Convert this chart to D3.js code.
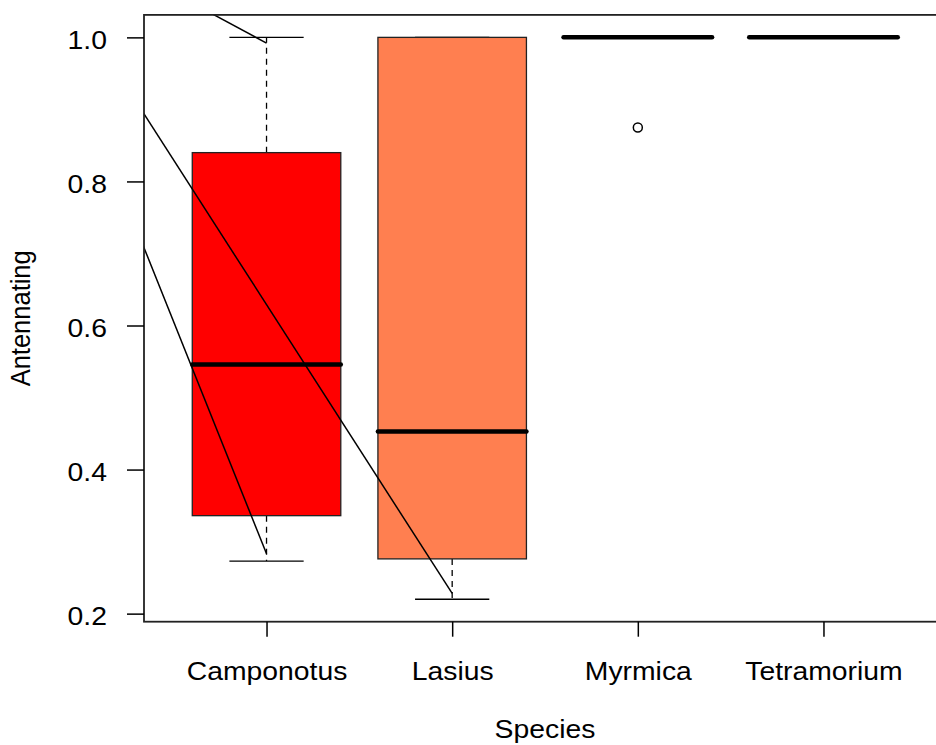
<!DOCTYPE html>
<html>
<head>
<meta charset="utf-8">
<script src="https://cdn.jsdelivr.net/npm/d3@7"></script>
<style>
  body { margin: 0; background: #fff; }
  text { font-family: "Liberation Sans", Arial, sans-serif; fill: #000; }
</style>
</head>
<body>
<div id="chart"></div>
<script>
// Data
var species = ["Camponotus", "Lasius", "Myrmica", "Tetramorium"];
var boxFill = ["#FF0000", "#FF7F50", "#FFFFFF", "#FFFFFF"];
var lowerWhisker = [0.273, 0.220, 1.0, 1.0];
var q1 = [0.336, 0.276, 1.0, 1.0];
var median = [0.546, 0.453, 1.0, 1.0];
var q3 = [0.840, 1.0, 1.0, 1.0];
var upperWhisker = [1.0, 1.0, 1.0, 1.0];

// outlier points (species index is 1-based like the x positions)
var outlierX = [3];
var outlierY = [0.875];

// stray straight lines drawn over the plot (x in group units)
var segX1 = [0, 0, 0];
var segY1 = [1.131, 1.03, 0.927];
var segX2 = [1, 2, 1];
var segY2 = [0.992, 0.228, 0.283];

var yTicks = [0.2, 0.4, 0.6, 0.8, 1.0];

// SVG area
var svgWidth = 936;
var svgHeight = 745;

var plot = { left: 144, top: 14.9, right: 946, bottom: 621.7 };
var stretch = 1.09; // text is a bit wider than tall in the original

var svg = d3.select("#chart")
    .append("svg")
    .attr("width", svgWidth)
    .attr("height", svgHeight);

// Scales
var xScale = d3.scaleLinear()
    .domain([0.34, 4.66])
    .range([plot.left, plot.right]);

var yScale = d3.scaleLinear()
    .domain([0.1888, 1.0312])
    .range([plot.bottom, plot.top]);

var unit = xScale(1) - xScale(0);
var boxHalf = 0.4 * unit;
var capHalf = 0.2 * unit;

svg.append("clipPath")
    .attr("id", "plotClip")
    .append("rect")
    .attr("x", plot.left)
    .attr("y", plot.top)
    .attr("width", plot.right - plot.left)
    .attr("height", plot.bottom - plot.top);

var boxGroup = svg.append("g").attr("clip-path", "url(#plotClip)");

var idx = d3.range(species.length);

// whiskers (dashed)
boxGroup.selectAll(".whiskerLow")
    .data(idx)
    .enter()
    .append("line")
    .attr("x1", i => xScale(i + 1))
    .attr("x2", i => xScale(i + 1))
    .attr("y1", i => yScale(q1[i]))
    .attr("y2", i => yScale(lowerWhisker[i]))
    .attr("stroke", "#000")
    .attr("stroke-width", 1.3)
    .attr("stroke-dasharray", "6,5");

boxGroup.selectAll(".whiskerHigh")
    .data(idx)
    .enter()
    .append("line")
    .attr("x1", i => xScale(i + 1))
    .attr("x2", i => xScale(i + 1))
    .attr("y1", i => yScale(q3[i]))
    .attr("y2", i => yScale(upperWhisker[i]))
    .attr("stroke", "#000")
    .attr("stroke-width", 1.3)
    .attr("stroke-dasharray", "6,5");

// whisker caps
[lowerWhisker, upperWhisker].forEach(function(arr) {
    boxGroup.selectAll(null)
        .data(idx)
        .enter()
        .append("line")
        .attr("x1", i => xScale(i + 1) - capHalf)
        .attr("x2", i => xScale(i + 1) + capHalf)
        .attr("y1", i => yScale(arr[i]))
        .attr("y2", i => yScale(arr[i]))
        .attr("stroke", "#000")
        .attr("stroke-width", 1.3);
});

// boxes
boxGroup.selectAll(".box")
    .data(idx)
    .enter()
    .append("rect")
    .attr("x", i => xScale(i + 1) - boxHalf)
    .attr("width", 2 * boxHalf)
    .attr("y", i => yScale(q3[i]))
    .attr("height", i => yScale(q1[i]) - yScale(q3[i]))
    .attr("fill", i => boxFill[i])
    .attr("stroke", "#222")
    .attr("stroke-width", 1.3);

// medians
boxGroup.selectAll(".median")
    .data(idx)
    .enter()
    .append("line")
    .attr("x1", i => xScale(i + 1) - boxHalf)
    .attr("x2", i => xScale(i + 1) + boxHalf)
    .attr("y1", i => yScale(median[i]))
    .attr("y2", i => yScale(median[i]))
    .attr("stroke", "#000")
    .attr("stroke-width", 4.5)
    .attr("stroke-linecap", "round");

// outliers
boxGroup.selectAll(".outlier")
    .data(outlierX)
    .enter()
    .append("circle")
    .attr("cx", d => xScale(d))
    .attr("cy", (d, i) => yScale(outlierY[i]))
    .attr("r", 4.5)
    .attr("fill", "none")
    .attr("stroke", "#000")
    .attr("stroke-width", 1.5);

// straight lines over the plot
boxGroup.selectAll(".seg")
    .data(segX1)
    .enter()
    .append("line")
    .attr("x1", (d, i) => xScale(segX1[i]))
    .attr("y1", (d, i) => yScale(segY1[i]))
    .attr("x2", (d, i) => xScale(segX2[i]))
    .attr("y2", (d, i) => yScale(segY2[i]))
    .attr("stroke", "#000")
    .attr("stroke-width", 1.5);

// plot frame
svg.append("rect")
    .attr("x", plot.left)
    .attr("y", plot.top)
    .attr("width", plot.right - plot.left)
    .attr("height", plot.bottom - plot.top)
    .attr("fill", "none")
    .attr("stroke", "#222")
    .attr("stroke-width", 1.8);

// x axis
var bottomAxis = d3.axisBottom(xScale)
    .tickValues([1, 2, 3, 4])
    .tickFormat(d => species[d - 1])
    .tickSize(15)
    .tickSizeOuter(0);

var xAxis = svg.append("g")
    .attr("transform", `translate(0, ${plot.bottom})`)
    .call(bottomAxis);

xAxis.select(".domain").remove();
xAxis.selectAll("line").attr("stroke", "#000").attr("stroke-width", 1.5);
xAxis.selectAll("text")
    .attr("y", null)
    .attr("dy", null)
    .attr("transform", `translate(0, 58) scale(${stretch}, 1)`)
    .style("font-size", "26px")
    .attr("font-family", null);

// y axis
var leftAxis = d3.axisLeft(yScale)
    .tickValues(yTicks)
    .tickFormat(d3.format(".1f"))
    .tickSize(17)
    .tickSizeOuter(0);

var yAxis = svg.append("g")
    .attr("transform", `translate(${plot.left}, 0)`)
    .call(leftAxis);

yAxis.select(".domain").remove();
yAxis.selectAll("line").attr("stroke", "#000").attr("stroke-width", 1.5);
yAxis.selectAll("text")
    .attr("x", null)
    .attr("dy", null)
    .attr("transform", `translate(-37, 11) scale(${stretch}, 1)`)
    .style("font-size", "26px")
    .attr("font-family", null);

// axis titles
svg.append("text")
    .attr("transform", `translate(${(plot.left + plot.right) / 2}, 738) scale(${stretch}, 1)`)
    .attr("text-anchor", "middle")
    .style("font-size", "26px")
    .text("Species");

svg.append("text")
    .attr("transform", `translate(30, ${(plot.top + plot.bottom) / 2}) rotate(-90) scale(1, ${stretch})`)
    .attr("text-anchor", "middle")
    .style("font-size", "25.5px")
    .text("Antennating");
</script>
</body>
</html>
